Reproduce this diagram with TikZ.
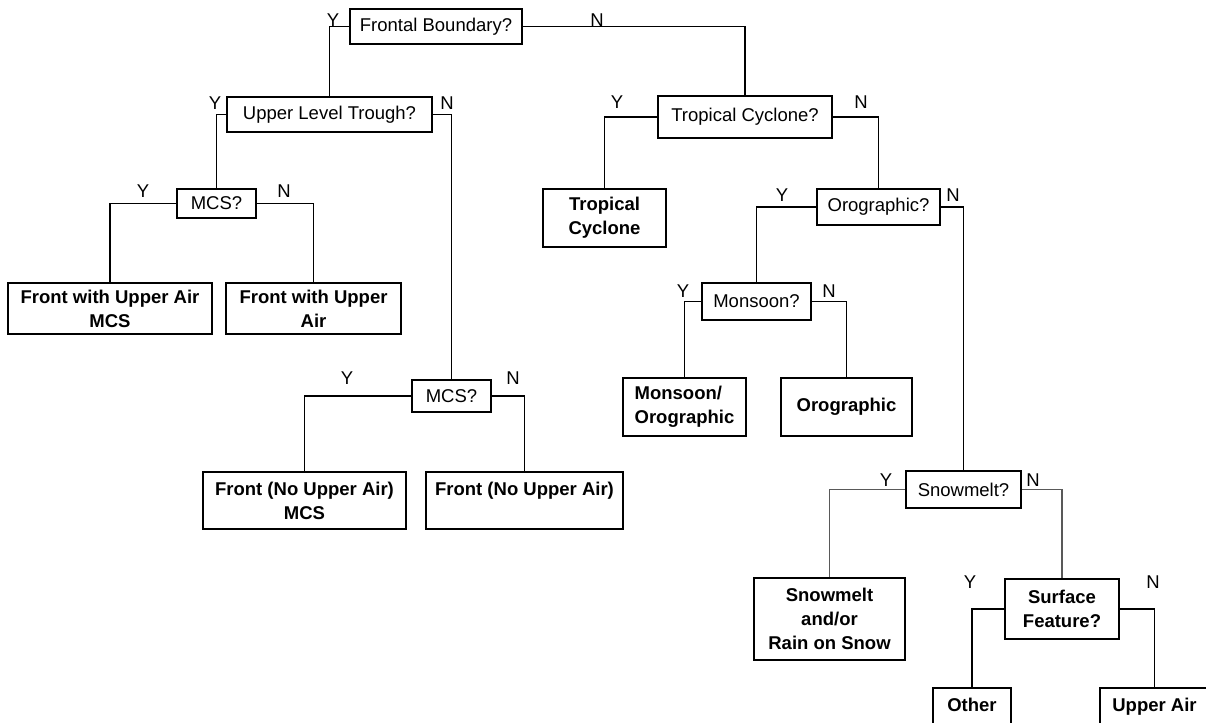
\documentclass[tikz,border=0pt]{standalone}
\usepackage{fontspec}
\setmainfont{Liberation Sans}
\begin{document}
\begin{tikzpicture}[x=1pt,y=-1pt,
  base/.style={font=\fontsize{18.5}{24}\selectfont, inner sep=0pt, align=center},
  qbox/.style={base, draw=black, line width=1.8pt, fill=white},
  leaf/.style={base, draw=black, line width=1.8pt, fill=white, font=\fontsize{18.5}{24}\selectfont\bfseries},
  yn/.style={base},
  conn/.style={draw=black, line width=1.8pt},
  thinconn/.style={draw=black!65, line width=1.2pt}
]
\useasboundingbox (0,0) rectangle (1206,722);
\fill[white] (0,0) rectangle (1206,722);

% question boxes
\node[qbox, minimum width=172, minimum height=35] (fb)   at (436,26.5)  {Frontal Boundary?};
\node[qbox, minimum width=205, minimum height=35] (ult)  at (329.5,114.5) {Upper Level Trough?};
\node[qbox, minimum width=79,  minimum height=29] (mcsa) at (216.5,203.5) {MCS?};
\node[qbox, minimum width=174, minimum height=42] (tc)   at (745,117)   {Tropical Cyclone?};
\node[qbox, minimum width=123, minimum height=36] (oro)  at (878.5,207) {Orographic?};
\node[qbox, minimum width=109, minimum height=37] (mon)  at (756.5,301.5) {Monsoon?};
\node[qbox, minimum width=79,  minimum height=32] (mcsb) at (451.5,396) {MCS?};
\node[qbox, minimum width=115, minimum height=37] (snow) at (963.5,489.5) {Snowmelt?};
\node[leaf, minimum width=114, minimum height=60] (sf)   at (1062,609)  {Surface\\Feature?};

% leaves
\node[leaf, minimum width=204, minimum height=51] (la)  at (110,308.5)   {Front with Upper Air\\MCS};
\node[leaf, minimum width=175, minimum height=51] (lb)  at (313.5,308.5) {Front with Upper\\Air};
\node[leaf, minimum width=203, minimum height=57] (lc)  at (304.5,500.5) {Front (No Upper Air)\\MCS};
\node[leaf, minimum width=197, minimum height=57] (ld)  at (524.5,500.5) {Front (No Upper Air)\\\mbox{}};
\node[leaf, minimum width=123, minimum height=58] (ltc) at (604.5,218)   {Tropical\\Cyclone};
\node[leaf, minimum width=123, minimum height=58, align=left] (lmo) at (684.5,407) {Monsoon/\\Orographic};
\node[leaf, minimum width=131, minimum height=58] (lor) at (846.5,407)   {Orographic};
\node[leaf, minimum width=151, minimum height=82] (lsn) at (829.5,619)   {Snowmelt\\and/or\\Rain on Snow};
\node[leaf, minimum width=78,  minimum height=57] (lot) at (972,716.5)   {Other\\\mbox{}};
\node[leaf, minimum width=109, minimum height=57] (lua) at (1154.5,716.5) {Upper Air\\\mbox{}};

% connectors
\draw[conn] (fb.west) -| (ult.north);
\draw[conn] (fb.east) -| (tc.north);
\draw[conn] (ult.west) -| (mcsa.north);
\draw[conn] (ult.east) -| (mcsb.north);
\draw[conn] (mcsa.west) -| (la.north);
\draw[conn] (mcsa.east) -| (lb.north);
\draw[conn] (mcsb.west) -| (lc.north);
\draw[conn] (mcsb.east) -| (ld.north);
\draw[conn] (tc.west) -| (ltc.north);
\draw[conn] (tc.east) -| (oro.north);
\draw[conn] (oro.west) -| (mon.north);
\draw[conn] (oro.east) -| (snow.north);
\draw[conn] (mon.west) -| (lmo.north);
\draw[conn] (mon.east) -| (lor.north);
\draw[thinconn] (snow.west) -| (lsn.north);
\draw[thinconn] (snow.east) -| (sf.north);
\draw[conn] (sf.west) -| (lot.north);
\draw[conn] (sf.east) -| (lua.north);

% Y / N labels
\node[yn] (fbY)   at (333,20)  {Y};
\node[yn] (fbN)   at (597,20)  {N};
\node[yn] (ultY)  at (215,103) {Y};
\node[yn] (ultN)  at (447,103) {N};
\node[yn] (mcsaY) at (143,191) {Y};
\node[yn] (mcsaN) at (284,191) {N};
\node[yn] (tcY)   at (617,102) {Y};
\node[yn] (tcN)   at (861,102) {N};
\node[yn] (oroY)  at (782,195) {Y};
\node[yn] (oroN)  at (953,195) {N};
\node[yn] (monY)  at (683,291) {Y};
\node[yn] (monN)  at (829,291) {N};
\node[yn] (mcsbY) at (347,378) {Y};
\node[yn] (mcsbN) at (513,378) {N};
\node[yn] (snowY) at (886,480) {Y};
\node[yn] (snowN) at (1033,480) {N};
\node[yn] (sfY)   at (970,582) {Y};
\node[yn] (sfN)   at (1153,582) {N};
\end{tikzpicture}
\end{document}
